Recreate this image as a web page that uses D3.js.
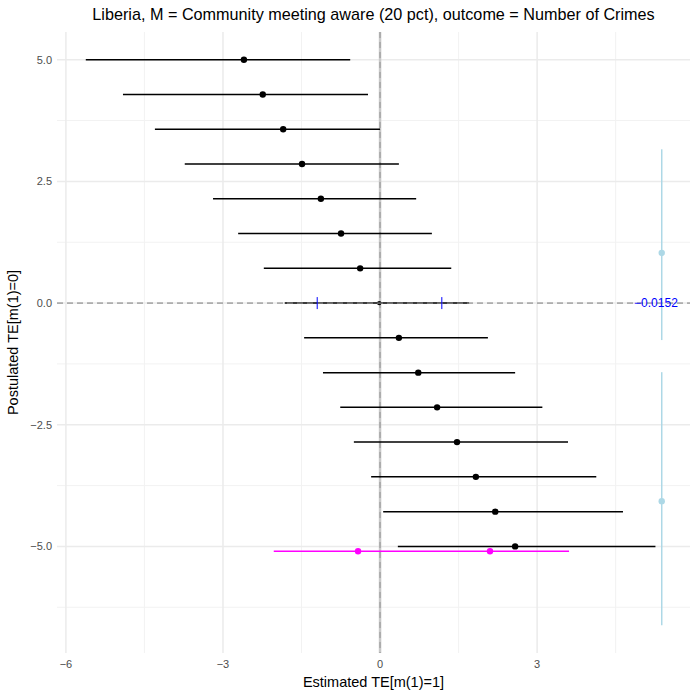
<!DOCTYPE html>
<html>
<head>
<meta charset="utf-8">
<script src="https://cdn.jsdelivr.net/npm/d3@7"></script>
<style>
  body { margin: 0; background: #fff; }
  text { font-family: "Liberation Sans", Arial, sans-serif; }
</style>
</head>
<body>
<svg id="chart" width="698" height="698"></svg>
<script>
// postulated TE values (rows) and the estimates with their intervals
var postulated = [5.0, 4.286, 3.571, 2.857, 2.143, 1.429, 0.714, 0.0, -0.714, -1.429, -2.143, -2.857, -3.571, -4.286, -5.0];
var estimate = [-2.60, -2.24, -1.85, -1.49, -1.13, -0.745, -0.38, -0.0152, 0.36, 0.73, 1.09, 1.47, 1.83, 2.20, 2.58];
var lower = [-5.62, -4.91, -4.30, -3.73, -3.19, -2.71, -2.22, -1.82, -1.45, -1.09, -0.76, -0.50, -0.17, 0.06, 0.34];
var upper = [-0.57, -0.23, 0.0, 0.36, 0.69, 0.99, 1.36, 1.70, 2.06, 2.58, 3.10, 3.59, 4.13, 4.64, 5.26];

// blue markers on the zero row
var zeroTicks = [-1.20, 1.18];
var zeroLabel = "-0.0152";

// magenta interval
var magentaY = -5.1;
var magentaPts = [-0.42, 2.10];
var magentaRange = [-2.03, 3.61];

// light blue vertical intervals
var lbX = 5.38;
var lbMid = [1.03, -4.07];
var lbLow = [-0.76, -6.62];
var lbHigh = [3.16, -1.42];

var xTicks = [-6, -3, 0, 3];
var yTicks = [5.0, 2.5, 0.0, -2.5, -5.0];
var xMinor = [-4.5, -1.5, 1.5, 4.5];
var yMinor = [3.75, 1.25, -1.25, -3.75, -6.25];

(function() {
    var left = 57, right = 690, top = 32, bottom = 653;
    var svg = d3.select("#chart");

    var x = d3.scaleLinear().domain([-6.17, 5.92]).range([left, right]);
    var y = d3.scaleLinear().domain([-7.19, 5.57]).range([bottom, top]);

    var grid = svg.append("g");
    grid.selectAll("line.xmin").data(xMinor).join("line")
        .attr("x1", d => x(d)).attr("x2", d => x(d)).attr("y1", top).attr("y2", bottom)
        .attr("stroke", "#f2f2f2").attr("stroke-width", 1);
    grid.selectAll("line.ymin").data(yMinor).join("line")
        .attr("y1", d => y(d)).attr("y2", d => y(d)).attr("x1", left).attr("x2", right)
        .attr("stroke", "#f2f2f2").attr("stroke-width", 1);
    grid.selectAll("line.xmaj").data(xTicks).join("line")
        .attr("x1", d => x(d)).attr("x2", d => x(d)).attr("y1", top).attr("y2", bottom)
        .attr("stroke", "#ebebeb").attr("stroke-width", 1.5);
    grid.selectAll("line.ymaj").data(yTicks).join("line")
        .attr("y1", d => y(d)).attr("y2", d => y(d)).attr("x1", left).attr("x2", right)
        .attr("stroke", "#ebebeb").attr("stroke-width", 1.5);

    // reference lines
    svg.append("line")
        .attr("x1", left).attr("x2", right).attr("y1", y(0)).attr("y2", y(0))
        .attr("stroke", "#a6a6a6").attr("stroke-width", 1.3).attr("stroke-dasharray", "6,4");
    svg.append("line")
        .attr("x1", x(0)).attr("x2", x(0)).attr("y1", top).attr("y2", bottom)
        .attr("stroke", "#c8c8c8").attr("stroke-width", 2.5);
    svg.append("line")
        .attr("x1", x(0)).attr("x2", x(0)).attr("y1", top).attr("y2", bottom)
        .attr("stroke", "#a0a0a0").attr("stroke-width", 1.3).attr("stroke-dasharray", "6,4");

    // intervals
    svg.append("g").selectAll("line").data(postulated).join("line")
        .attr("x1", (d, i) => x(lower[i])).attr("x2", (d, i) => x(upper[i]))
        .attr("y1", d => y(d)).attr("y2", d => y(d))
        .attr("stroke", "#000").attr("stroke-width", 1.5);
    svg.append("g").selectAll("circle").data(postulated).join("circle")
        .attr("cx", (d, i) => x(estimate[i])).attr("cy", d => y(d))
        .attr("r", (d, i) => i == 7 ? 2.2 : 3.2).attr("fill", "#000");

    // dashed overlay on zero row
    svg.append("line")
        .attr("x1", left).attr("x2", right).attr("y1", y(0)).attr("y2", y(0))
        .attr("stroke", "#a6a6a6").attr("stroke-width", 1).attr("stroke-dasharray", "6,4");

    svg.append("g").selectAll("line").data(zeroTicks).join("line")
        .attr("x1", d => x(d)).attr("x2", d => x(d))
        .attr("y1", y(0) - 6).attr("y2", y(0) + 6)
        .attr("stroke", "#0000ff").attr("stroke-width", 1);

    // magenta
    svg.append("line")
        .attr("x1", x(magentaRange[0])).attr("x2", x(magentaRange[1]))
        .attr("y1", y(magentaY)).attr("y2", y(magentaY))
        .attr("stroke", "#ff00ff").attr("stroke-width", 1.5);
    svg.append("g").selectAll("circle").data(magentaPts).join("circle")
        .attr("cx", d => x(d)).attr("cy", y(magentaY)).attr("r", 3.2).attr("fill", "#ff00ff");

    // light blue
    svg.append("g").selectAll("line").data(lbMid).join("line")
        .attr("x1", x(lbX)).attr("x2", x(lbX))
        .attr("y1", (d, i) => y(lbHigh[i])).attr("y2", (d, i) => y(lbLow[i]))
        .attr("stroke", "#add8e6").attr("stroke-width", 1.5);
    svg.append("g").selectAll("circle").data(lbMid).join("circle")
        .attr("cx", x(lbX)).attr("cy", d => y(d)).attr("r", 3.2).attr("fill", "#add8e6");

    svg.append("text")
        .attr("x", x(5.27)).attr("y", y(0)).attr("dy", "0.36em")
        .attr("text-anchor", "middle").attr("fill", "#0000ff").attr("font-size", 12)
        .text(zeroLabel.replace("-", "\u2212"));

    // axes labels
    svg.append("g").selectAll("text").data(xTicks).join("text")
        .attr("x", d => x(d)).attr("y", bottom + 15)
        .attr("text-anchor", "middle").attr("fill", "#4d4d4d").attr("font-size", 11)
        .text(d => d3.format("")(d).replace("-", "\u2212"));
    svg.append("g").selectAll("text").data(yTicks).join("text")
        .attr("x", left - 5).attr("y", d => y(d)).attr("dy", "0.36em")
        .attr("text-anchor", "end").attr("fill", "#4d4d4d").attr("font-size", 11)
        .text(d => d3.format(".1f")(d).replace("-", "\u2212"));

    svg.append("text")
        .attr("x", (left + right) / 2).attr("y", 687)
        .attr("text-anchor", "middle").attr("font-size", 14.5).attr("fill", "#000")
        .text("Estimated TE[m(1)=1]");
    svg.append("text")
        .attr("transform", "translate(18," + ((top + bottom) / 2) + ") rotate(-90)")
        .attr("text-anchor", "middle").attr("font-size", 14.5).attr("fill", "#000")
        .text("Postulated TE[m(1)=0]");
    svg.append("text")
        .attr("x", (left + right) / 2).attr("y", 20)
        .attr("text-anchor", "middle").attr("font-size", 16.2).attr("fill", "#000")
        .text("Liberia, M = Community meeting aware (20 pct), outcome = Number of Crimes");
})()
</script>
</body>
</html>
